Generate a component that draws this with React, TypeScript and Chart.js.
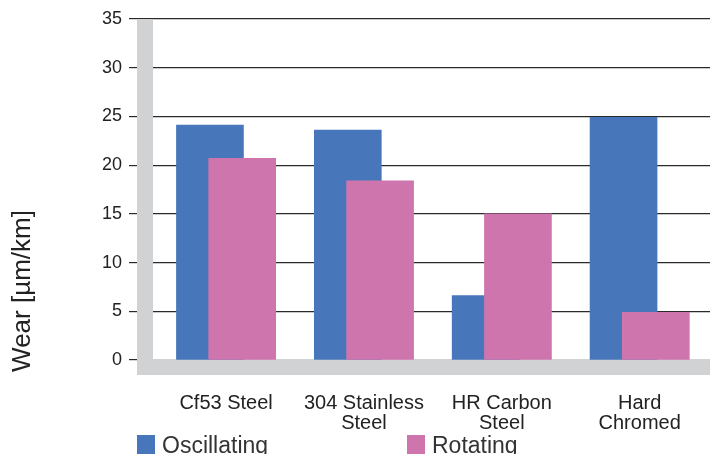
import { useEffect, useRef } from 'react';
import { Chart, registerables } from 'chart.js';

Chart.register(...registerables);

// Materials on the x axis (multi-line labels)
const categories: string[][] = [
  ['Cf53 Steel'],
  ['304 Stainless', 'Steel'],
  ['HR Carbon', 'Steel'],
  ['Hard', 'Chromed'],
];
const seriesNames = ['Oscillating', 'Rotating'];
const oscillating = [24.1, 23.6, 6.6, 24.9];
const rotating = [20.7, 18.4, 15.0, 4.9];
const yTickValues = [0, 5, 10, 15, 20, 25, 30, 35];
const axisTitle = 'Wear [µm/km]';

const BLUE = '#4876BA';
const PINK = '#CF75AE';
const WALL = '#D1D2D4';
const TEXT = '#222222';
const SANS = "'Liberation Sans', Arial, sans-serif";

// Half-overlap shift of each bar from its category centre, in category units
const SHIFT = 0.117;

// Grey "3D" wall and floor behind the bars
const wallPlugin = {
  id: 'wallFloor',
  beforeDatasetsDraw(chart: any) {
    const { ctx, chartArea } = chart;
    const depth = 16;
    ctx.save();
    ctx.fillStyle = WALL;
    ctx.fillRect(chartArea.left - depth, chartArea.top, depth, chartArea.bottom - chartArea.top + depth - 1);
    ctx.fillRect(chartArea.left - depth, chartArea.bottom - 1, chart.width - chartArea.left + depth, depth);
    ctx.restore();
  },
};

// Rotated axis title and bottom legend
const decorPlugin = {
  id: 'decor',
  afterDraw(chart: any) {
    const { ctx } = chart;
    ctx.save();
    ctx.fillStyle = TEXT;
    ctx.font = `26px ${SANS}`;
    ctx.textAlign = 'center';
    ctx.textBaseline = 'middle';
    ctx.translate(23, 291);
    ctx.rotate(-Math.PI / 2);
    ctx.fillText(axisTitle, 0, 0);
    ctx.restore();

    const items = chart.data.datasets.map((ds: any) => ({ label: ds.label, color: ds.backgroundColor }));
    const xs = [137, 407];
    ctx.save();
    ctx.font = `23px ${SANS}`;
    ctx.textBaseline = 'alphabetic';
    ctx.textAlign = 'left';
    items.forEach((it: any, i: number) => {
      ctx.fillStyle = it.color;
      ctx.fillRect(xs[i], 435, 18, 19);
      ctx.fillStyle = '#333333';
      ctx.fillText(it.label, xs[i] + 25, 453);
    });
    ctx.restore();
  },
};

export default function App() {
  const canvasRef = useRef<HTMLCanvasElement | null>(null);

  useEffect(() => {
    document.body.style.margin = '0';
    const canvas = canvasRef.current;
    if (!canvas) return;
    const chart = new Chart(canvas, {
      type: 'bar',
      data: {
        datasets: [
          {
            label: seriesNames[0],
            data: oscillating.map((y, i) => ({ x: i - SHIFT, y })),
            backgroundColor: BLUE,
            order: 1,
          },
          {
            label: seriesNames[1],
            data: rotating.map((y, i) => ({ x: i + SHIFT, y })),
            backgroundColor: PINK,
            order: 0,
          },
        ],
      },
      options: {
        responsive: false,
        animation: false,
        layout: { padding: { top: 19, left: 0, right: 0, bottom: 0 } },
        datasets: {
          bar: { barThickness: 67, grouped: false, borderWidth: 0 } as any,
        },
        plugins: {
          legend: { display: false },
          tooltip: { enabled: false },
        },
        scales: {
          x: {
            type: 'linear',
            min: -0.53,
            max: 3.51,
            offset: false,
            grid: { display: false, offset: false },
            border: { display: false },
            afterBuildTicks: (scale: any) => {
              scale.ticks = categories.map((_, i) => ({ value: i }));
            },
            afterFit: (scale: any) => {
              scale.height = 94;
            },
            ticks: {
              autoSkip: false,
              maxRotation: 0,
              minRotation: 0,
              padding: 25,
              color: TEXT,
              font: { family: SANS, size: 20, lineHeight: '20px' as any },
              callback: (value: any) => categories[Math.round(Number(value))] ?? '',
            },
          },
          y: {
            type: 'linear',
            min: 0,
            max: 35,
            grid: { color: '#2a2a2a', lineWidth: 1.2, tickLength: 24, tickColor: '#2a2a2a' },
            border: { display: false },
            afterBuildTicks: (scale: any) => {
              scale.ticks = yTickValues.map((v) => ({ value: v }));
            },
            afterFit: (scale: any) => {
              scale.width = 153;
            },
            ticks: {
              padding: 7,
              color: TEXT,
              font: { family: SANS, size: 18 },
              callback: (value: any) => String(value),
            },
          },
        },
      },
      plugins: [wallPlugin, decorPlugin],
    });
    return () => chart.destroy();
  }, []);

  return (
    <div style={{ width: 710, height: 454 }}>
      <canvas ref={canvasRef} width={710} height={454} style={{ display: 'block' }} />
    </div>
  );
}
